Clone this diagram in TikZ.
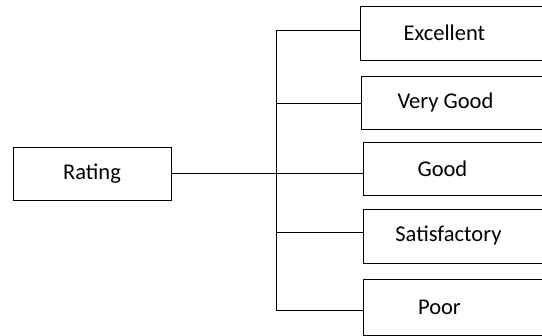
\documentclass[tikz,border=0pt]{standalone}
\usepackage{fontspec}
\setmainfont{Carlito}
\newcommand{\celltext}[1]{\makebox[240pt][l]{\makebox[168pt]{#1}}}

\begin{document}
\begin{tikzpicture}
    	[x=1pt, y=-1pt, line width=0.9pt,
    	 box/.style={draw, rectangle, inner xsep=0pt, inner ysep=0pt, font=\fontsize{22.5}{26}\selectfont},
    	 item/.style={box, anchor=west, minimum height=54pt}]
    	\useasboundingbox (0,0) rectangle (542,336);
    	\clip (0,0) rectangle (542,336);
    	\node (rating) at (92,173.5) [box, minimum width=158pt, minimum height=53pt] {Rating};
    	\node (exc) at (360,33) [item] {\celltext{Excellent}};
    	\node (vgood) at (361,102.5) [item, minimum height=53pt] {\celltext{Very Good}};
    	\node (good) at (363,168.5) [item, minimum height=53pt] {\makebox[240pt][l]{\makebox[158pt]{Good}}};
    	\node (sat) at (363,236) [item] {\makebox[240pt][l]{\makebox[170pt]{Satisfactory}}};
    	\node (poor) at (363,307) [item, minimum height=56pt] {\makebox[240pt][l]{\makebox[152pt]{Poor}}};
	
    	\coordinate (t1) at (276,30);
    	\coordinate (t2) at (276,103);
    	\coordinate (t4) at (276,232);
    	\coordinate (t5) at (276,310);
	
    	\draw (t1) -- (t5);
    	\draw (t1) -- (t1 -| exc.west);
    	\draw (t2) -- (t2 -| vgood.west);
    	\draw (rating.east) -- (rating.east -| good.west);
    	\draw (t4) -- (t4 -| sat.west);
    	\draw (t5) -- (t5 -| poor.west);
\end{tikzpicture}
\end{document}
